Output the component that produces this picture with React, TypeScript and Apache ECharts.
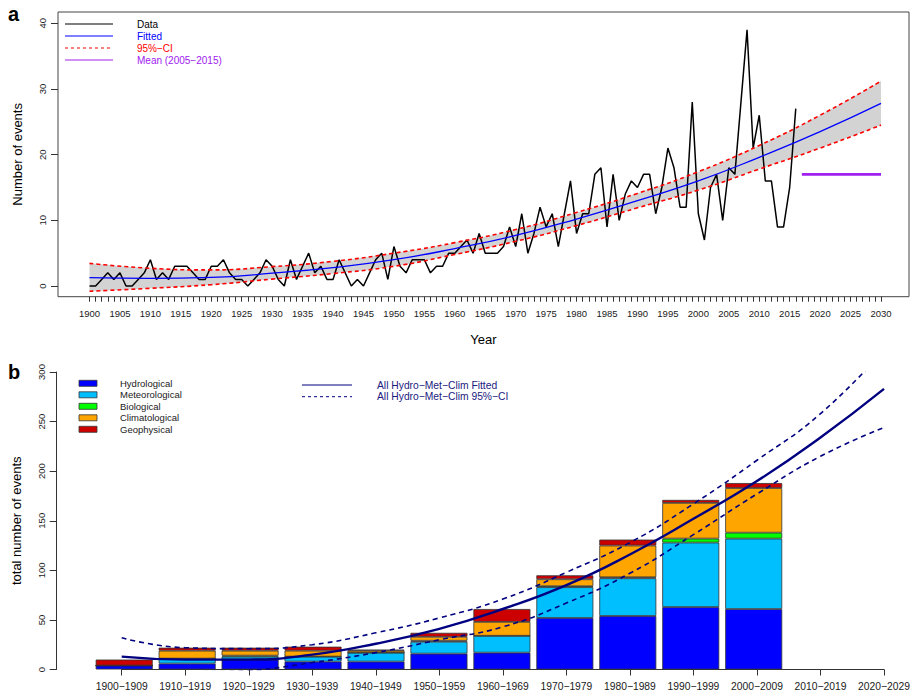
import React, { useEffect, useRef } from "react";
import * as echarts from "echarts";

const FONT = "'Liberation Sans', Arial, Helvetica, sans-serif";

// ---------- Panel a: annual number of events ----------
const FIRST_YEAR = 1900;
const ANNUAL_COUNTS = [
  0, 0, 1, 2, 1, 2, 0, 0, 1, 2, // 1900s
  4, 1, 2, 1, 3, 3, 3, 2, 1, 1, // 1910s
  3, 3, 4, 2, 1, 1, 0, 1, 2, 4, // 1920s
  3, 1, 0, 4, 1, 3, 5, 2, 3, 1, // 1930s
  1, 4, 2, 0, 1, 0, 2, 4, 5, 1, // 1940s
  6, 3, 2, 4, 4, 4, 2, 3, 3, 5, // 1950s
  5, 6, 7, 5, 8, 5, 5, 5, 6, 9, // 1960s
  6, 11, 5, 8, 12, 9, 11, 6, 11, 16, // 1970s
  8, 11, 11, 17, 18, 9, 17, 10, 14, 16, // 1980s
  15, 17, 17, 11, 15, 21, 18, 12, 12, 28, // 1990s
  11, 7, 15, 17, 10, 18, 17, 28, 39, 21, // 2000s
  26, 16, 16, 9, 9, 15, 27, // 2010-2016
];

// fitted trend and its 95% confidence limits, one value per decade
const FIT_YEARS = ["1900", "1910", "1920", "1930", "1940", "1950", "1960", "1970", "1980", "1990", "2000", "2010", "2020", "2030"];
const FIT_VALUES = [1.27, 1.17, 1.3, 1.95, 2.8, 4.0, 5.7, 7.7, 10.2, 13.0, 16.0, 19.6, 23.5, 27.8];
const CI_UPPER = [3.45, 2.7, 2.45, 2.95, 3.75, 5.0, 6.6, 8.6, 11.2, 14.1, 17.4, 21.4, 26.0, 31.2];
const CI_LOWER = [-0.8, -0.35, 0.2, 1.05, 1.9, 3.0, 4.8, 6.8, 9.2, 11.9, 14.6, 17.8, 21.0, 24.5];

const MEAN_YEARS = [2017, 2030];
const MEAN_VALUE = 17;

const TOP_Y_TICKS = [0, 10, 20, 30, 40];
const TOP_X_FIRST = 1900;
const TOP_X_LAST = 2030;
const TOP_X_LABEL_STEP = 5;

// ---------- Panel b: events per decade by type ----------
const DECADES = [
  "1900−1909", "1910−1919", "1920−1929", "1930−1939", "1940−1949", "1950−1959", "1960−1969",
  "1970−1979", "1980−1989", "1990−1999", "2000−2009", "2010−2019", "2020−2029",
];
const HYDROLOGICAL = [4, 6, 10, 8, 8, 16, 17, 52, 54, 63, 61, null, null];
const METEOROLOGICAL = [0, 5, 3, 5, 9, 12, 17, 31, 38, 65, 71, null, null];
const BIOLOGICAL = [0, 0, 1, 0, 0, 1, 0, 1, 1, 4, 6, null, null];
const CLIMATOLOGICAL = [0, 8, 5, 6, 2, 4, 14, 7, 32, 36, 45, null, null];
const GEOPHYSICAL = [6, 3, 3, 4, 1, 4, 13, 4, 6, 3, 5, null, null];

const DEC_FIT = [13, 10, 10, 15, 26, 41, 61, 85, 116, 152, 190, 234, 283];
const DEC_UPPER = [32, 22, 21, 25, 37, 52, 71, 98, 128, 167, 211, 258, 322];
const DEC_LOWER = [-8, -3, -1, 7, 17, 30, 43, 67, 97, 136, 177, 215, 244];

const BOTTOM_Y_TICKS = [0, 50, 100, 150, 200, 250, 300];

const TYPE_NAMES = ["Hydrological", "Meteorological", "Biological", "Climatological", "Geophysical"];
const TYPE_COLORS = ["#0000ff", "#00bfff", "#00ff00", "#ffa500", "#cd0000"];
const TYPE_VALUES = [HYDROLOGICAL, METEOROLOGICAL, BIOLOGICAL, CLIMATOLOGICAL, GEOPHYSICAL];

function buildOption() {
  const allYears: number[] = [];
  for (let y = TOP_X_FIRST; y <= TOP_X_LAST; y++) allYears.push(y);
  const labelYears = allYears.filter((y) => (y - TOP_X_FIRST) % TOP_X_LABEL_STEP === 0);

  const dataLine = ANNUAL_COUNTS.map((v, i) => [FIRST_YEAR + i, v]);
  const bandWidth = CI_UPPER.map((u, i) => +(u - CI_LOWER[i]).toFixed(3));
  const meanLine = MEAN_YEARS.map((y) => [y, MEAN_VALUE]);

  const axisColor = "#333";
  const labelColor = "#1a1a1a";

  const topLegend = [
    { label: "Data", color: "#000000", dash: null as number[] | null },
    { label: "Fitted", color: "#0000ff", dash: null },
    { label: "95%−CI", color: "#ff0000", dash: [3, 3] },
    { label: "Mean (2005−2015)", color: "#a020f0", dash: null },
  ];
  const topLegendY = [24, 36, 48, 60];
  const bottomLegendY = [383.3, 394.8, 406.3, 417.8, 429.3];

  const graphics: any[] = [
    { type: "text", x: 8, y: 4, style: { text: "a", fontSize: 20, fontWeight: "bold", fontFamily: FONT, fill: "#000" } },
    { type: "text", x: 8, y: 362, style: { text: "b", fontSize: 20, fontWeight: "bold", fontFamily: FONT, fill: "#000" } },
  ];
  topLegend.forEach((it, i) => {
    const y = topLegendY[i];
    graphics.push({
      type: "line",
      shape: { x1: 65, y1: y, x2: 113, y2: y },
      style: { stroke: it.color, lineWidth: 1.2, lineDash: it.dash || undefined },
    });
    graphics.push({
      type: "text",
      x: 137,
      y,
      style: { text: it.label, fill: it.color, fontSize: 10, fontFamily: FONT, verticalAlign: "middle", align: "left" },
    });
  });
  TYPE_NAMES.forEach((name, i) => {
    const y = bottomLegendY[i];
    graphics.push({
      type: "rect",
      shape: { x: 79, y: y - 3, width: 18, height: 6 },
      style: { fill: TYPE_COLORS[i], stroke: "#333", lineWidth: 0.8 },
    });
    graphics.push({
      type: "text",
      x: 120,
      y,
      style: { text: name, fill: "#1a1a1a", fontSize: 9.5, fontFamily: FONT, verticalAlign: "middle", align: "left" },
    });
  });
  [
    { label: "All Hydro−Met−Clim Fitted", dash: null as number[] | null, y: 385 },
    { label: "All Hydro−Met−Clim 95%−CI", dash: [3, 3], y: 396.7 },
  ].forEach((it) => {
    graphics.push({
      type: "line",
      shape: { x1: 302, y1: it.y, x2: 352, y2: it.y },
      style: { stroke: "#000080", lineWidth: 1, lineDash: it.dash || undefined },
    });
    graphics.push({
      type: "text",
      x: 377,
      y: it.y,
      style: { text: it.label, fill: "#1a1a80", fontSize: 10.3, fontFamily: FONT, verticalAlign: "middle", align: "left" },
    });
  });

  const barSeries = TYPE_NAMES.map((name, i) => ({
    name,
    type: "bar",
    xAxisIndex: 1,
    yAxisIndex: 1,
    stack: "types",
    barWidth: 57,
    data: TYPE_VALUES[i].map((v) => (v === null ? "-" : v)),
    itemStyle: { color: TYPE_COLORS[i], borderColor: "#333", borderWidth: 0.8 },
    silent: true,
  }));

  const topYMin = -1.63;
  const topYMax = 41.72;

  return {
    animation: false,
    backgroundColor: "#ffffff",
    textStyle: { fontFamily: FONT },
    grid: [
      { left: 58, top: 12, width: 851, height: 284.7, show: true, borderColor: "#444", borderWidth: 1, backgroundColor: "transparent" },
      { left: 124.2, top: 372, width: 755.4, height: 297.5 },
      { left: 121.7, top: 372, width: 762.3, height: 297.5 },
      // same plot area as grid 0, spanning 1900..2030 for the decade-wise trend
      { left: 89.5, top: 12, width: 791.5, height: 284.7 },
    ],
    xAxis: [
      {
        gridIndex: 0,
        type: "value",
        min: 1894.826,
        max: 2034.6,
        splitLine: { show: false },
        axisLine: { show: false, onZero: false },
        axisTick: { show: true, customValues: allYears, length: 5, lineStyle: { color: axisColor, width: 1 } },
        axisLabel: {
          customValues: labelYears,
          margin: 12,
          fontSize: 9.5,
          color: labelColor,
          fontFamily: FONT,
          formatter: (v: number) => String(v),
        },
        name: "Year",
        nameLocation: "middle",
        nameGap: 36,
        nameTextStyle: { fontSize: 13, color: "#000", fontFamily: FONT },
      },
      { gridIndex: 1, type: "category", data: DECADES, boundaryGap: false, show: false },
      {
        gridIndex: 2,
        type: "category",
        data: DECADES,
        boundaryGap: false,
        axisLine: { show: true, onZero: false, lineStyle: { color: axisColor, width: 1 } },
        axisTick: { show: true, length: 6, lineStyle: { color: axisColor } },
        axisLabel: { interval: 0, margin: 12, fontSize: 10.3, color: labelColor, fontFamily: FONT },
        splitLine: { show: false },
      },
      { gridIndex: 3, type: "category", data: FIT_YEARS, boundaryGap: false, show: false },
    ],
    yAxis: [
      {
        gridIndex: 0,
        type: "value",
        min: topYMin,
        max: topYMax,
        splitLine: { show: false },
        axisLine: { show: false, onZero: false },
        axisTick: { show: true, customValues: TOP_Y_TICKS, length: 7, lineStyle: { color: axisColor } },
        axisLabel: { customValues: TOP_Y_TICKS, rotate: 90, margin: 11, fontSize: 9.5, color: labelColor, fontFamily: FONT },
        name: "Number of events",
        nameLocation: "middle",
        nameRotate: 90,
        nameGap: 34,
        nameTextStyle: { fontSize: 13, color: "#000", fontFamily: FONT },
      },
      {
        gridIndex: 1,
        type: "value",
        min: 0,
        max: 300,
        interval: 50,
        offset: 67.5,
        splitLine: { show: false },
        axisLine: { show: true, onZero: false, lineStyle: { color: axisColor, width: 1 } },
        axisTick: { show: true, length: 7, lineStyle: { color: axisColor } },
        axisLabel: { customValues: BOTTOM_Y_TICKS, rotate: 90, margin: 10, fontSize: 9.5, color: labelColor, fontFamily: FONT },
        name: "total number of events",
        nameLocation: "middle",
        nameRotate: 90,
        nameGap: 34,
        nameTextStyle: { fontSize: 13, color: "#000", fontFamily: FONT },
      },
      { gridIndex: 2, type: "value", min: 0, max: 300, show: false, splitLine: { show: false } },
      { gridIndex: 3, type: "value", min: topYMin, max: topYMax, show: false, splitLine: { show: false } },
    ],
    graphic: graphics,
    series: [
      {
        name: "ci-base",
        type: "line",
        xAxisIndex: 3,
        yAxisIndex: 3,
        data: CI_LOWER,
        stack: "ci",
        stackStrategy: "all",
        smooth: true,
        symbol: "none",
        lineStyle: { width: 0, color: "transparent" },
        silent: true,
        z: 1,
      },
      {
        name: "ci-band",
        type: "line",
        xAxisIndex: 3,
        yAxisIndex: 3,
        data: bandWidth,
        stack: "ci",
        stackStrategy: "all",
        smooth: true,
        symbol: "none",
        lineStyle: { width: 0, color: "transparent" },
        areaStyle: { color: "#d3d3d3", opacity: 1 },
        silent: true,
        z: 1,
      },
      {
        name: "Data",
        type: "line",
        xAxisIndex: 0,
        yAxisIndex: 0,
        data: dataLine,
        symbol: "none",
        lineStyle: { color: "#000000", width: 1.5 },
        z: 3,
      },
      {
        name: "Fitted",
        type: "line",
        xAxisIndex: 3,
        yAxisIndex: 3,
        data: FIT_VALUES,
        smooth: true,
        symbol: "none",
        lineStyle: { color: "#0000ff", width: 1.3 },
        z: 4,
      },
      {
        name: "95%-CI upper",
        type: "line",
        xAxisIndex: 3,
        yAxisIndex: 3,
        data: CI_UPPER,
        smooth: true,
        symbol: "none",
        lineStyle: { color: "#ff0000", width: 1.6, type: [4, 3] },
        z: 4,
      },
      {
        name: "95%-CI lower",
        type: "line",
        xAxisIndex: 3,
        yAxisIndex: 3,
        data: CI_LOWER,
        smooth: true,
        symbol: "none",
        lineStyle: { color: "#ff0000", width: 1.6, type: [4, 3] },
        z: 4,
      },
      {
        name: "Mean (2005-2015)",
        type: "line",
        xAxisIndex: 0,
        yAxisIndex: 0,
        data: meanLine,
        symbol: "none",
        lineStyle: { color: "#a020f0", width: 2.8 },
        z: 4,
      },
      ...barSeries,
      {
        name: "All Hydro-Met-Clim Fitted",
        type: "line",
        xAxisIndex: 2,
        yAxisIndex: 2,
        data: DEC_FIT,
        smooth: true,
        symbol: "none",
        clip: true,
        lineStyle: { color: "#000080", width: 2.4 },
        z: 5,
      },
      {
        name: "All Hydro-Met-Clim 95%-CI upper",
        type: "line",
        xAxisIndex: 2,
        yAxisIndex: 2,
        data: DEC_UPPER,
        smooth: true,
        symbol: "none",
        clip: true,
        lineStyle: { color: "#000080", width: 1.6, type: [5, 4] },
        z: 5,
      },
      {
        name: "All Hydro-Met-Clim 95%-CI lower",
        type: "line",
        xAxisIndex: 2,
        yAxisIndex: 2,
        data: DEC_LOWER,
        smooth: true,
        symbol: "none",
        clip: true,
        lineStyle: { color: "#000080", width: 1.6, type: [5, 4] },
        z: 5,
      },
    ],
  };
}

export default function App() {
  const ref = useRef<HTMLDivElement>(null);
  useEffect(() => {
    if (!ref.current) return;
    const chart = echarts.init(ref.current, null, { renderer: "svg" });
    chart.setOption(buildOption() as any);
    return () => chart.dispose();
  }, []);
  return (
    <div
      ref={ref}
      style={{ position: "fixed", left: 0, top: 0, width: 914, height: 696, background: "#fff" }}
    />
  );
}
